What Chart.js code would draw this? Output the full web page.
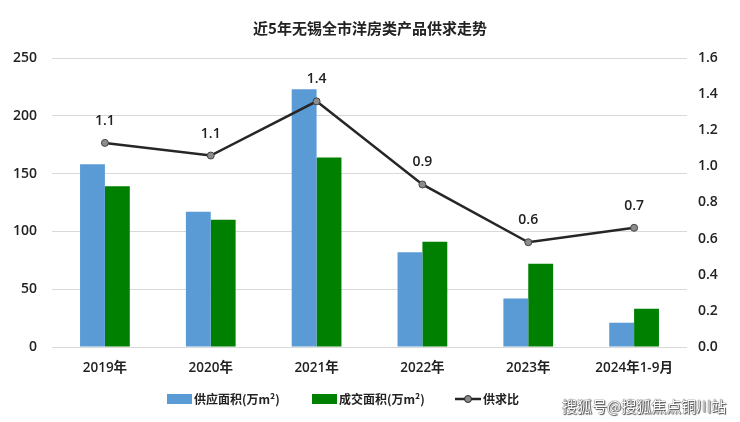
<!DOCTYPE html>
<html><head><meta charset="utf-8">
<script src="https://cdn.jsdelivr.net/npm/chart.js@4"></script>
<style>
html,body{margin:0;padding:0;background:#fff;}
#wrap{position:relative;width:740px;height:422px;}
#wm{position:absolute;left:562px;top:395px;font:15px "Noto Sans CJK SC",sans-serif;color:#fff;
text-shadow:0 0 1px #333,0 0 1px #333,1px 1px 1px #555;white-space:nowrap;}
</style></head>
<body><div id="wrap"><canvas id="c" width="740" height="422"></canvas><div id="wm">搜狐号@搜狐焦点铜川站</div></div>
<script>
const title = "近5年无锡全市洋房类产品供求走势";
const categories = ["2019年","2020年","2021年","2022年","2023年","2024年1-9月"];
const supplyArea = [158, 117, 223, 82, 42, 21];
const dealArea = [139, 110, 164, 91, 72, 33];
const ratio = [1.13, 1.06, 1.36, 0.9, 0.58, 0.66];
const ratioLabels = ["1.1","1.1","1.4","0.9","0.6","0.7"];
const seriesNames = ["供应面积(万m²)","成交面积(万m²)","供求比"];
const leftTicks = [0,50,100,150,200,250];
const rightTicks = [0,0.2,0.4,0.6,0.8,1.0,1.2,1.4,1.6];

const FONT = '"Noto Sans CJK SC", sans-serif';
const NFONT = '"Open Sans", "Noto Sans CJK SC", sans-serif';
const BLUE = '#5B9BD5', GREEN = '#008000', LINE = '#262626';

const extras = {
  id: 'extras',
  afterDraw(chart) {
    const ctx = chart.ctx;
    ctx.save();
    ctx.fillStyle = '#222';
    ctx.font = 'bold 15px ' + FONT;
    ctx.textAlign = 'center'; ctx.textBaseline = 'middle';
    ctx.fillText(title, 370, 28);
    const meta = chart.getDatasetMeta(0);
    ctx.font = '600 14px ' + NFONT;
    ctx.fillStyle = '#222';
    meta.data.forEach((p, i) => {
      ctx.fillText(ratioLabels[i], p.x, p.y - 22);
    });
    const ly = 399;
    ctx.font = 'bold 12px ' + FONT;
    ctx.textAlign = 'left';
    ctx.fillStyle = BLUE; ctx.fillRect(167, ly - 5, 25, 10);
    ctx.fillStyle = '#222'; ctx.fillText(seriesNames[0], 194, ly);
    ctx.fillStyle = GREEN; ctx.fillRect(312, ly - 5, 25, 10);
    ctx.fillStyle = '#222'; ctx.fillText(seriesNames[1], 339, ly);
    ctx.strokeStyle = LINE; ctx.lineWidth = 2.5;
    ctx.beginPath(); ctx.moveTo(455, ly); ctx.lineTo(481, ly); ctx.stroke();
    ctx.fillStyle = '#8c8c8c'; ctx.lineWidth = 1;
    ctx.beginPath(); ctx.arc(468, ly, 3.5, 0, Math.PI*2); ctx.fill(); ctx.stroke();
    ctx.fillStyle = '#222'; ctx.fillText(seriesNames[2], 483, ly);
    ctx.restore();
  }
};

new Chart(document.getElementById('c'), {
  data: {
    labels: categories,
    datasets: [
      { type: 'line', label: seriesNames[2], data: ratio, yAxisID: 'y1', order: 0,
        borderColor: LINE, borderWidth: 2.5, pointRadius: 3.5, pointBackgroundColor: '#8c8c8c',
        pointBorderColor: '#444', pointBorderWidth: 1, tension: 0 },
      { type: 'bar', label: seriesNames[0], data: supplyArea, yAxisID: 'y', order: 1,
        backgroundColor: BLUE, categoryPercentage: 0.47, barPercentage: 1 },
      { type: 'bar', label: seriesNames[1], data: dealArea, yAxisID: 'y', order: 1,
        backgroundColor: GREEN, categoryPercentage: 0.47, barPercentage: 1 }
    ]
  },
  options: {
    responsive: false, animation: false, devicePixelRatio: 1,
    layout: { padding: { top: 58, bottom: 45, left: 0, right: 0 } },
    plugins: { legend: { display: false }, title: { display: false }, tooltip: { enabled: false } },
    scales: {
      x: {
        grid: { display: false, drawTicks: false }, border: { display: false },
        ticks: { color: '#222', font: { family: NFONT, size: 13.5, weight: '600' }, padding: 13, maxRotation: 0 },
        afterFit(s) { s.height = 30; }
      },
      y: {
        position: 'left', min: 0, max: 250,
        afterBuildTicks(s) { s.ticks = leftTicks.map(v => ({ value: v })); },
        grid: { color: '#d9d9d9', lineWidth: 1, drawTicks: false }, border: { display: false },
        ticks: { color: '#222', font: { family: NFONT, size: 14, weight: '600' }, padding: 15 },
        afterFit(s) { s.width = 52; }
      },
      y1: {
        position: 'right', min: 0, max: 1.6,
        afterBuildTicks(s) { s.ticks = rightTicks.map(v => ({ value: v })); },
        grid: { display: false, drawTicks: false }, border: { display: false },
        ticks: { color: '#222', font: { family: NFONT, size: 14, weight: '600' }, padding: 11,
          callback: v => Number(v).toFixed(1) },
        afterFit(s) { s.width = 53; }
      }
    }
  },
  plugins: [extras]
});
</script></body></html>
